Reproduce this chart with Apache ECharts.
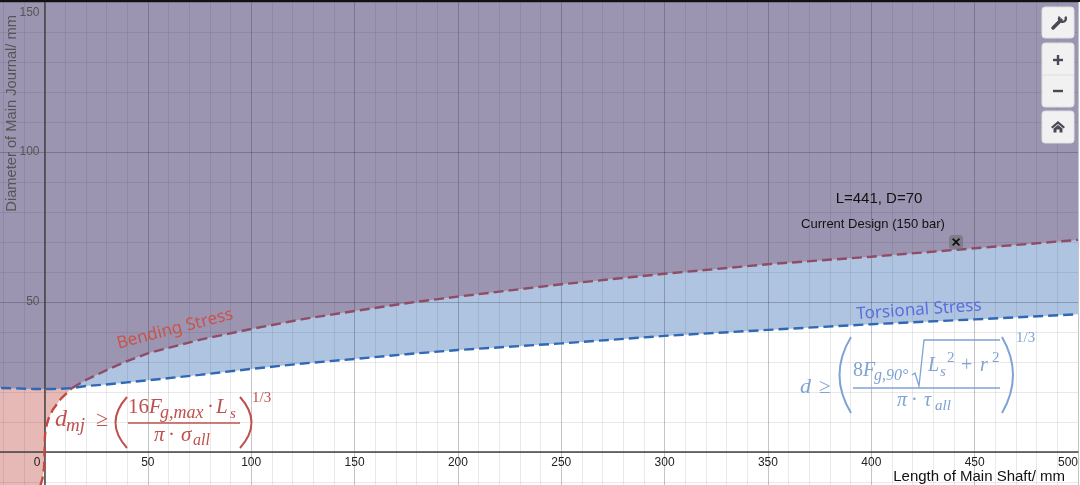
<!DOCTYPE html>
<html><head><meta charset="utf-8">
<style>html,body{margin:0;padding:0;background:#fff;overflow:hidden}#c{width:1080px;height:485px}</style>
<script src="https://cdn.jsdelivr.net/npm/echarts@6/dist/echarts.min.js"></script>
</head><body><div id="c"></div>
<script>
// Values
const shaftLength = [-50,-5,-2,-1,-0.2,0,0.2,0.5,1,2,4,8,13.3,20,30,40,50,75,100,125,150,175,200,250,300,350,400,450,500];
const bendingLimit = [-33,-15,-11.2,-8.9,-5.2,0,5.2,7.1,8.9,11.2,14.1,17.8,21.3,24,27.3,30.3,32.9,37.4,41,44.3,47,49.6,51.8,55.9,59.4,62.6,65.1,67.9,70.7];
const torsionLimit = [22,21,21,21,21,21,21,21,21,21,21,21.1,21.3,22,22.5,23.2,23.9,25.7,27.7,29.5,31,32.6,34,36.2,38.7,40.7,42.6,44.2,45.9];
const crossingLength = 13.3;
const currentDesign = [[441,70]];
const xLabelStep = 50, yLabelStep = 50;

const zip = (ys) => shaftLength.map((x,i)=>[x,ys[i]]);
const upper = shaftLength.map((x,i)=>Math.max(bendingLimit[i],torsionLimit[i]));
const RED='#c0504d', BLUE='#7ea3d4', AXIS='#444';

const area=(name,ys,color,z)=>({name,type:'line',data:zip(ys),symbol:'none',z,silent:true,
  lineStyle:{width:0},areaStyle:{color,opacity:1,origin:'end'}});
const curve=(name,pts,color,z)=>({name,type:'line',data:pts,symbol:'none',z,silent:true,
  lineStyle:{color,width:2.4,type:[10,5]}});

const SER='"Liberation Serif",serif';
function m(text,x,base,size,fill,italic){
  return {type:'text',z:20,silent:true,style:{text,x,y:base-0.34*size,fill,textVerticalAlign:'middle',
    font:(italic?'italic ':'')+size+'px '+SER}};
}
function paren(x0,xc,y0,y1,color){
  return {type:'bezierCurve',z:20,silent:true,shape:{x1:x0,y1:y0,x2:x0,y2:y1,cpx1:xc,cpy1:(y0+y1)/2},
    style:{stroke:color,lineWidth:2,fill:null}};
}
function line(x1,y1,x2,y2,color,w,z){
  return {type:'line',z:z||20,silent:true,shape:{x1,y1,x2,y2},style:{stroke:color,lineWidth:w||1.5}};
}
const eq1=[
 m('d',55,428,24,RED,true),m('mj',66,432,19,RED,true),m('≥',96,428,22,RED,false),
 paren(127,104,397,448,RED),
 m('16',128,415,21,RED,false),m('F',149,415,21,RED,true),m('g,max',160,419,18,RED,true),
 m('·',207,415,21,RED,false),m('L',216,415,21,RED,true),m('s',230,419,15,RED,true),
 line(128,423,240,423,RED,1.5),
 m('π',154,443,21,RED,true),m('·',168,443,21,RED,false),m('σ',181,443,21,RED,true),m('all',193,446,16,RED,true),
 paren(240,263,397,448,RED),
 m('1/3',252,403,15,RED,false)
];
const eq2=[
 m('d',800,395,22,BLUE,true),m('≥',819,395,21,BLUE,false),
 paren(851,828,337,413,BLUE),
 m('8',853,378,20,BLUE,false),m('F',863,378,20,BLUE,true),m('g,90°',874,381,16,BLUE,true),
 {type:'polyline',z:20,silent:true,shape:{points:[[912,375],[915,373],[919,386],[924,340],[1000,340]]},style:{stroke:BLUE,lineWidth:1.3,fill:null}},
 m('L',928,373,20,BLUE,true),m('s',940,377,15,BLUE,true),m('2',947,363,15,BLUE,false),
 m('+',961,373,20,BLUE,false),m('r',980,373,20,BLUE,true),m('2',992,363,15,BLUE,false),
 line(853,388,1000,388,BLUE,1.5),
 m('π',897,408,20,BLUE,true),m('·',911,408,20,BLUE,false),m('τ',924,408,20,BLUE,true),m('all',935,411,15,BLUE,true),
 paren(1002,1024,337,413,BLUE),
 m('1/3',1016,343,15,BLUE,false)
];
const btnFill='#f1f1f1', btnStroke='#dedede', ico='#4a4a55';
const btn=(x,y,w,h)=>({type:'rect',z:30,silent:true,shape:{x,y,width:w,height:h,r:3},style:{fill:btnFill,stroke:btnStroke,lineWidth:1}});
const toolbar=[
 btn(1042,7,32,31),btn(1042,43,32,64),btn(1042,111,32,32),
 line(1042.5,75,1073.5,75,'#dcdcdc',1,31),
 {type:'line',z:31,silent:true,shape:{x1:1053,y1:28,x2:1061,y2:20},style:{stroke:ico,lineWidth:3.5,lineCap:'round'}},
 {type:'arc',z:31,silent:true,shape:{cx:1062.5,cy:18.5,r:3.4,startAngle:-0.6,endAngle:3.7,clockwise:true},style:{stroke:ico,lineWidth:2.4,fill:null}},
 line(1053,60,1063,60,ico,2.4,31),line(1058,55,1058,65,ico,2.4,31),
 line(1053,91,1063,91,ico,2.4,31),
 {type:'polygon',z:31,silent:true,shape:{points:[[1051,127],[1058,121],[1065,127],[1063.5,128.5],[1058,124],[1052.5,128.5]]},style:{fill:ico}},
 {type:'polygon',z:31,silent:true,shape:{points:[[1053.5,128.5],[1058,125],[1062.5,128.5],[1062.5,132.5],[1059.5,132.5],[1059.5,129.5],[1056.5,129.5],[1056.5,132.5],[1053.5,132.5]]},style:{fill:ico}}
];
const notes=[
 {type:'text',z:20,silent:true,style:{text:'L=441, D=70',x:879,y:199,fill:'#111',textAlign:'center',textVerticalAlign:'middle',font:'15px "Liberation Sans"'}},
 {type:'text',z:20,silent:true,style:{text:'Current Design (150 bar)',x:873,y:224,fill:'#111',textAlign:'center',textVerticalAlign:'middle',font:'13px "Liberation Sans"'}},
 {type:'text',z:20,silent:true,x:175,y:329,rotation:14.5*Math.PI/180,style:{text:'Bending Stress',fill:'#c9544b',textAlign:'center',textVerticalAlign:'middle',font:'17px "Noto Sans"'}},
 {type:'text',z:20,silent:true,x:919,y:310,rotation:4*Math.PI/180,style:{text:'Torsional Stress',fill:'#5b6fdc',textAlign:'center',textVerticalAlign:'middle',font:'17px "Noto Sans"'}},
 {type:'rect',z:40,silent:true,shape:{x:0,y:0,width:1080,height:2},style:{fill:'#111'}}
];

const gridMinor={show:true,lineStyle:{color:'rgba(40,40,60,0.10)',width:1,type:'solid'}};
const gridMajor={show:true,lineStyle:{color:'rgba(40,40,60,0.28)',width:1,type:'solid'}};
const gridLeft=44.5-50*2.067, gridBottom=485-452-150;
const chart=echarts.init(document.getElementById('c'),null,{renderer:'canvas'});
chart.setOption({
 animation:false,
 grid:{left:gridLeft,right:2,top:2,bottom:gridBottom,containLabel:false,outerBoundsMode:'none'},
 xAxis:{type:'value',min:-50,max:500,interval:xLabelStep,z:3,position:'bottom',offset:-150,
  name:'Length of Main Shaft/ mm',nameLocation:'end',nameGap:0,nameMoveOverlap:false,
  nameTextStyle:{color:'#111',fontFamily:'Liberation Sans',fontSize:15,align:'right',verticalAlign:'top',padding:[17,13,0,0]},
  axisLine:{show:true,onZero:false,lineStyle:{color:AXIS,width:1.5}},axisTick:{show:false},
  minorTick:{show:false,splitNumber:5},splitLine:gridMajor,minorSplitLine:gridMinor,
  axisLabel:{show:true,margin:5,fontSize:12,fontFamily:'Liberation Sans',color:'#222',alignMaxLabel:'right',
   formatter:v=>v<0?'':(v===0?'{zero|0}':String(v)),rich:{zero:{fontSize:12,color:'#222',padding:[0,15,0,0]}}}},
 yAxis:{type:'value',min:-50,max:150,interval:yLabelStep,z:3,position:'left',offset:gridLeft-44.5,
  name:'Diameter of Main Journal/ mm',nameLocation:'end',nameGap:-13,nameRotate:90,nameMoveOverlap:false,
  nameTextStyle:{color:'#555',fontFamily:'Liberation Sans',fontSize:14.7,align:'right',verticalAlign:'bottom',padding:[0,0,25,0]},
  axisLine:{show:true,onZero:false,lineStyle:{color:AXIS,width:1.5}},axisTick:{show:false},
  minorTick:{show:false,splitNumber:5},splitLine:gridMajor,minorSplitLine:gridMinor,
  axisLabel:{show:true,margin:5,fontSize:12,fontFamily:'Liberation Sans',color:'#555',verticalAlignMaxLabel:'top',
   formatter:v=>v<=0?'':(v===150?'{top|150}':String(v)),rich:{top:{fontSize:12,color:'#555',padding:[5,0,0,0]}}}},
 series:[
  area('Torsional region',torsionLimit,'#afc4e0',1),
  area('Bending region',bendingLimit,'#e6b9b6',1),
  area('Both',upper,'#9c95b1',1),
  curve('Bending Stress (lower)',zip(bendingLimit).filter(p=>p[0]<=crossingLength),'#c4483f',5),
  curve('Bending Stress',zip(bendingLimit).filter(p=>p[0]>=crossingLength),'#8f4c66',5),
  curve('Torsional Stress',zip(torsionLimit),'#2f68b3',6),
  {name:'Current Design',type:'scatter',data:currentDesign,symbol:'roundRect',symbolSize:14,z:7,silent:true,itemStyle:{color:'#77777f'}},
  {name:'Current Design mark',type:'scatter',data:currentDesign,z:8,silent:true,symbol:'path://M1 0L5 4L9 0L10 1L6 5L10 9L9 10L5 6L1 10L0 9L4 5L0 1Z',symbolSize:7,itemStyle:{color:'#000',borderColor:'#000',borderWidth:1}}
 ],
 graphic:{elements:[...eq1,...eq2,...notes,...toolbar]}
});
</script></body></html>
